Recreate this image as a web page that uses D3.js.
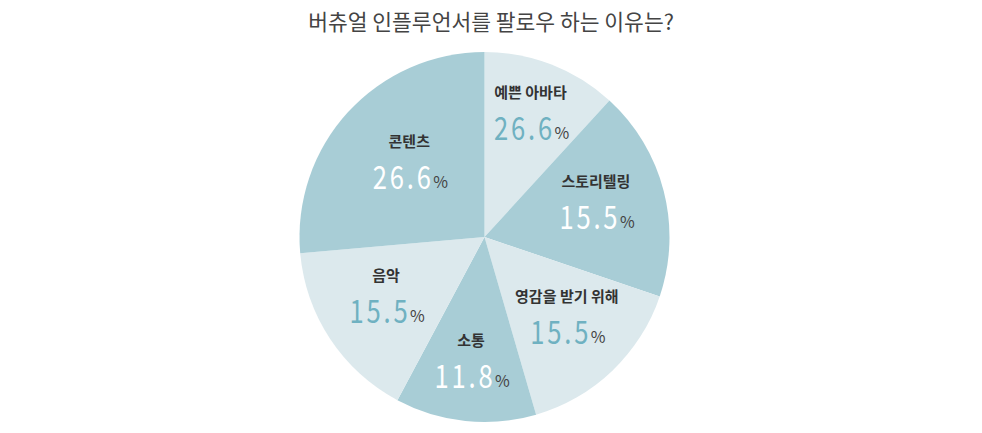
<!DOCTYPE html>
<html>
<head>
<meta charset="utf-8">
<script src="https://cdn.jsdelivr.net/npm/d3@7"></script>
<style>
  body { margin: 0; background: #fff; }
  text { font-family: "Noto Sans CJK KR", "Noto Sans", sans-serif; }
</style>
</head>
<body>
<div id="chart"></div>
<script>
// categories, clockwise from 12 o'clock
const categories = ['예쁜 아바타', '스토리텔링', '영감을 받기 위해', '소통', '음악', '콘텐츠'];
// slice sizes as drawn in the picture
const sliceValues = [11.8, 18.4, 15.3, 12.3, 15.8, 26.4];
// percentages printed on the slices
const labelValues = ['26.6', '15.5', '15.5', '11.8', '15.5', '26.6'];
const shade = ['light', 'dark', 'light', 'dark', 'light', 'dark'];

const width = 982, height = 433;
const cx = 484.5, cy = 237, radius = 185;
// distance of each text block from the centre
const labelRadius = [127, 115, 119, 131, 118, 102];

const fill = { light: '#dce9ed', dark: '#a8cdd6' };
const numColor = { light: '#6fb1c1', dark: '#ffffff' };

const svg = d3.select('#chart').append('svg')
    .attr('width', width)
    .attr('height', height);

svg.append('text')
    .attr('x', 491)
    .attr('y', 30)
    .attr('text-anchor', 'middle')
    .attr('font-size', 21.5)
    .attr('fill', '#444')
    .text('버츄얼 인플루언서를 팔로우 하는 이유는?');

const rows = categories.map((c, i) => ({ name: c, value: sliceValues[i], label: labelValues[i], shade: shade[i], i }));

const pie = d3.pie().value(d => d.value).sort(null);
const arc = d3.arc().innerRadius(0).outerRadius(radius);

const g = svg.append('g').attr('transform', `translate(${cx}, ${cy})`);

const arcs = pie(rows);

g.selectAll('path')
    .data(arcs)
    .enter()
    .append('path')
    .attr('d', arc)
    .attr('fill', d => fill[d.data.shade]);

const labels = g.selectAll('g.lbl')
    .data(arcs)
    .enter()
    .append('g')
    .attr('class', 'lbl')
    .attr('transform', d => {
        const r = labelRadius[d.data.i];
        const [x, y] = d3.arc().innerRadius(r).outerRadius(r).centroid(d);
        return `translate(${x}, ${y})`;
    });

labels.append('text')
    .attr('y', -21)
    .attr('text-anchor', 'middle')
    .attr('font-size', 15)
    .attr('font-weight', 700)
    .attr('fill', '#333')
    .text(d => d.data.name);

// number: narrow glyphs, spaced out
labels.append('g')
    .attr('transform', 'translate(-6, 21) scale(0.8, 1)')
    .append('text')
    .attr('text-anchor', 'middle')
    .attr('font-family', 'Roboto, sans-serif')
    .attr('font-size', 32)
    .attr('letter-spacing', 3.5)
    .attr('fill', d => numColor[d.data.shade])
    .text(d => d.data.label);

labels.append('text')
    .attr('x', 24)
    .attr('y', 20)
    .attr('font-size', 16)
    .attr('fill', '#444')
    .text('%');
</script>
</body>
</html>
